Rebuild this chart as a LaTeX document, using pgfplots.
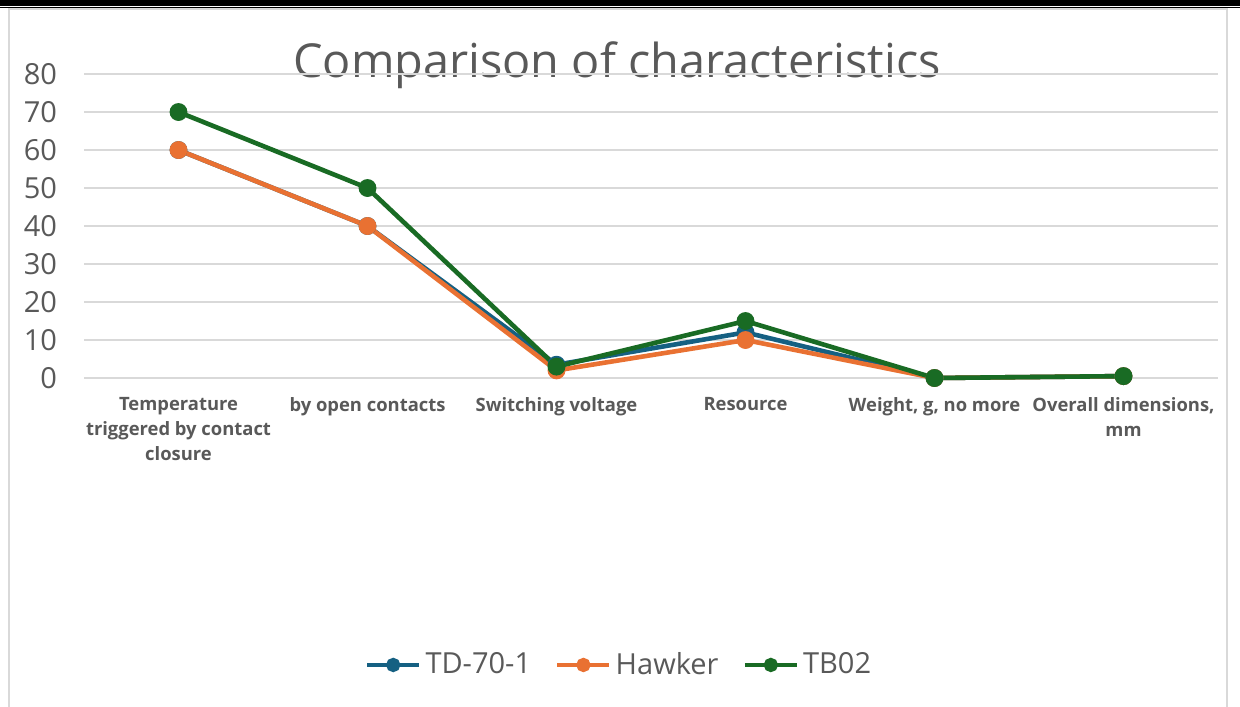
\documentclass[border=0pt]{standalone}
\usepackage{fontspec}
\setmainfont{Open Sans}
\usepackage{pgfplots}
\pgfplotsset{compat=1.18}
\definecolor{tdblue}{HTML}{156082}
\definecolor{hworange}{HTML}{E97132}
\definecolor{tbgreen}{HTML}{196B24}
\definecolor{textgray}{HTML}{595959}
\definecolor{gridgray}{HTML}{D9D9D9}
\begin{document}
\begin{tikzpicture}
% page is 620pt x 353pt, 1px = 0.5pt
\useasboundingbox (0,0) rectangle (620pt,-353pt);
\fill[white] (0,0) rectangle (620pt,-353pt);
\fill[black] (0,0) rectangle (620pt,-3pt);
\fill[black] (0,-3.5pt) rectangle (620pt,-4.2pt);
\draw[gridgray, line width=0.9pt] (4.6pt,-360pt) -- (4.6pt,-4.6pt) -- (613.4pt,-4.6pt) -- (613.4pt,-360pt);
\node[textgray, font=\fontsize{23.4}{28}\selectfont, anchor=base] at (308.5pt,-38.5pt) {Comparison of characteristics};
\begin{axis}[
    at={(42pt,-189pt)}, anchor=south west,
    scale only axis, width=567pt, height=152pt,
    xmin=-0.5, xmax=5.5, ymin=0, ymax=80,
    ytick={0,10,...,80},
    xtick={0,...,5},
    xticklabels={{Temperature\\triggered by contact\\closure},{by open contacts},{Switching voltage},{Resource},{Weight, g, no more},{Overall dimensions,\\mm}},
    axis line style={draw=none},
    major tick length=0pt,
    ymajorgrids,
    grid style={draw=gridgray, line width=0.75pt},
    /pgf/number format/assume math mode=true,
    tick label style={text=textgray},
    yticklabel style={font=\fontsize{14.5}{16}\selectfont, anchor=east, xshift=-10pt},
    xticklabel style={font=\bfseries\fontsize{9.2}{12.5}\selectfont, align=center, anchor=north, yshift=-6pt},
    clip=false,
    every axis plot/.append style={line width=2.3pt, mark=*, mark size=3.3pt},
    legend style={at={(0.4727,-0.944)}, anchor=center, draw=none, fill=none,
        legend columns=3, font=\fontsize{14.5}{16}\selectfont, text=textgray,
        /tikz/every even column/.append style={column sep=10pt}},
    legend image code/.code={\draw[mark repeat=2, mark phase=2, line width=2.3pt, mark size=2.4pt, #1] plot coordinates {(0pt,0pt) (13pt,0pt) (26pt,0pt)};},
]
\addplot[tdblue, mark options={fill=tdblue}] coordinates {(0,60) (1,40) (2,3.5) (3,12) (4,0) (5,0.5)};
\addlegendentry{TD-70-1}
\addplot[hworange, mark options={fill=hworange}] coordinates {(0,60) (1,40) (2,2) (3,10) (4,0) (5,0.5)};
\addlegendentry{Hawker}
\addplot[tbgreen, mark options={fill=tbgreen}] coordinates {(0,70) (1,50) (2,3) (3,15) (4,0) (5,0.5)};
\addlegendentry{TB02}
\end{axis}
\end{tikzpicture}
\end{document}
